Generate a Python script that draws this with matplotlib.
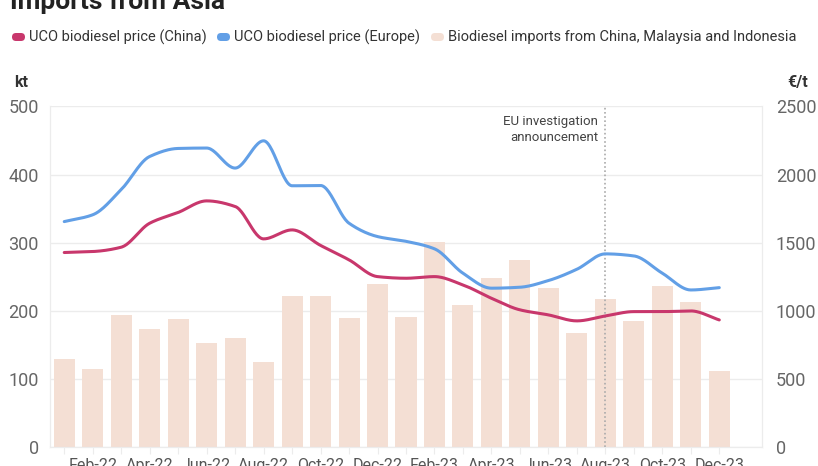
import numpy as np
import matplotlib
matplotlib.use("Agg")
import matplotlib.pyplot as plt
from matplotlib.patches import FancyBboxPatch

months = ["Jan-22", "Feb-22", "Mar-22", "Apr-22", "May-22", "Jun-22", "Jul-22", "Aug-22",
          "Sep-22", "Oct-22", "Nov-22", "Dec-22", "Jan-23", "Feb-23", "Mar-23", "Apr-23",
          "May-23", "Jun-23", "Jul-23", "Aug-23", "Sep-23", "Oct-23", "Nov-23", "Dec-23"]
imports_kt = [129, 114, 194, 174, 188, 152, 160, 125, 221, 221, 190, 240,
              191, 301, 209, 248, 275, 233, 168, 217, 185, 236, 213, 111]
price_china = [1428, 1435, 1467, 1643, 1722, 1807, 1766, 1528, 1594, 1480, 1374, 1251,
               1239, 1251, 1190, 1092, 1007, 970, 926, 962, 994, 994, 999, 933]
price_europe = [1655, 1705, 1890, 2133, 2192, 2195, 2048, 2248, 1918, 1920, 1643, 1545,
                1510, 1455, 1276, 1166, 1173, 1222, 1305, 1418, 1403, 1276, 1153, 1170]
tick_labels = months[1::2]
event_month = "Aug-23"

RED = "#c8376c"
BLUE = "#629fe6"
BAR = "#f4dfd4"
GRID = "#ececec"
TXT = "#666666"


def pchip(x, y, xs):
    x = np.asarray(x, float); y = np.asarray(y, float)
    h = np.diff(x); d = np.diff(y) / h
    n = len(x); m = np.zeros(n)
    for k in range(1, n - 1):
        if d[k - 1] * d[k] > 0:
            w1 = 2 * h[k] + h[k - 1]; w2 = h[k] + 2 * h[k - 1]
            m[k] = (w1 + w2) / (w1 / d[k - 1] + w2 / d[k])
    m[0] = d[0]; m[-1] = d[-1]
    idx = np.clip(np.searchsorted(x, xs) - 1, 0, n - 2)
    t = (xs - x[idx]) / h[idx]
    h00 = 2 * t**3 - 3 * t**2 + 1; h10 = t**3 - 2 * t**2 + t
    h01 = -2 * t**3 + 3 * t**2; h11 = t**3 - t**2
    return h00 * y[idx] + h10 * h[idx] * m[idx] + h01 * y[idx + 1] + h11 * h[idx] * m[idx + 1]


plt.rcParams['font.family'] = ['Roboto', 'DejaVu Sans']
fig = plt.figure(figsize=(8.18, 4.66), dpi=100)
ax = fig.add_axes([50 / 818, 19 / 466, 712 / 818, 340.5 / 466])
ax2 = ax.twinx()
ax.set_zorder(1); ax2.set_zorder(2)
ax.patch.set_visible(False)

x = np.arange(len(months))
ax.bar(x, imports_kt, width=0.74, color=BAR, zorder=2)
ax.set_xlim(-0.5, 24.5)
ax.set_ylim(0, 500)
ax.set_yticks([0, 100, 200, 300, 400, 500])
ax.grid(axis='y', color=GRID, linewidth=1, zorder=0)
ax.set_xticks(x)
ax.set_xticklabels([m if m in tick_labels else "" for m in months])

xs = np.linspace(0, len(months) - 1, 600)
ax2.plot(xs, pchip(x, price_europe, xs), color=BLUE, lw=2.2, solid_capstyle='round')
ax2.plot(xs, pchip(x, price_china, xs), color=RED, lw=2.2, solid_capstyle='round')
ax2.set_ylim(0, 2500)
ax2.set_yticks([0, 500, 1000, 1500, 2000, 2500])

ev = months.index(event_month)
ax2.axvline(ev, color="#aaaaaa", lw=1.2, ls=(0, (1, 1.5)), zorder=1)
ax2.text(ev - 0.25, 2435, "EU investigation\nannouncement", ha='right', va='top',
         fontsize=9.5, color="#444444", linespacing=1.25)

for a in (ax, ax2):
    a.spines['top'].set_visible(False)
    for s in ('left', 'right', 'bottom'):
        a.spines[s].set_color(GRID)
ax.tick_params(axis='y', length=0, labelsize=13, labelcolor=TXT, pad=8)
ax2.tick_params(axis='y', length=0, labelsize=13, labelcolor=TXT, pad=10)
ax.tick_params(axis='x', length=5, color=GRID, labelsize=11.5, labelcolor="#555555", pad=3)

fig.text(14 / 818, 1 - 83 / 466, "kt", fontsize=11.5, fontweight='bold', color="#333333", va='center')
fig.text(808 / 818, 1 - 83 / 466, "€/t", fontsize=11.5, fontweight='bold', color="#333333",
         va='center', ha='right')
fig.text(10 / 818, 1 - 2 / 466, "Imports from Asia", fontsize=19, fontweight='bold',
         color="#222222", va='center')

# legend
ly = 1 - 37 / 466
items = [(RED, "UCO biodiesel price (China)", 12),
         (BLUE, "UCO biodiesel price (Europe)", 217),
         (BAR, "Biodiesel imports from China, Malaysia and Indonesia", 431)]
for col, lab, px in items:
    p = FancyBboxPatch((px / 818, ly - 4 / 466), 13 / 818, 8 / 466,
                       boxstyle="round,pad=0,rounding_size=0.0049", transform=fig.transFigure,
                       facecolor=col, edgecolor='none', mutation_aspect=818 / 466)
    fig.patches.append(p)
    fig.text((px + 17) / 818, ly, lab, fontsize=10.5, color="#333333", va='center')

fig.savefig("out.png", dpi=100, facecolor='white')
